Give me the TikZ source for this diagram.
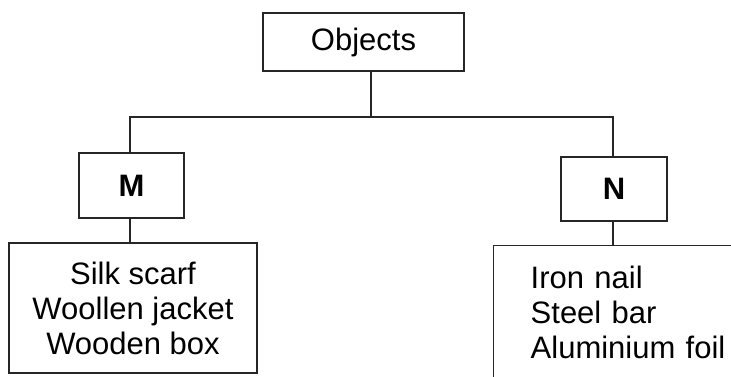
\documentclass[tikz,border=0pt]{standalone}
\usepackage{fontspec}
\setmainfont{Liberation Sans}
\usetikzlibrary{positioning}

\begin{document}
\begin{tikzpicture}[x=1pt,y=1pt,
  box/.style={draw=black!85, line width=1.4pt, inner sep=0pt},
  link/.style={black!85, line width=1.3pt},
  big/.style={font=\fontsize{31}{35}\selectfont},
  letter/.style={font=\fontsize{31}{35}\selectfont\bfseries}]
\useasboundingbox (0,-376) rectangle (731,0);
\clip (0,-376) rectangle (731,0);
\node[box, big, minimum width=201, minimum height=58] (obj) at (363.5,-42) {Objects};
\node[box, letter, minimum width=105, minimum height=65] (M) at (131.5,-185.5) {M};
\node[box, letter, minimum width=106, minimum height=64] (N) at (614,-189) {N};
\node[box, big, align=center, minimum width=248, minimum height=130] (mlist) at (133,-308)
  {Silk scarf\\Woollen jacket\\Wooden box};
\node[box, big, align=left, anchor=north west, text width=230, inner xsep=37, minimum height=134] (nlist) at (493,-245)
  {Iron nail\\Steel bar\\Aluminium foil};
\coordinate (fork) at (371,-117);
\draw[link] (obj.south -| fork) -- (fork);
\draw[link] (M.north -| 130,0) |- (fork) -| (N.north -| 613,0);
\draw[link] (M.south -| 130,0) -- (mlist.north -| 130,0);
\draw[link] (N.south -| 613,0) -- (nlist.north -| 613,0);
\end{tikzpicture}
\end{document}
